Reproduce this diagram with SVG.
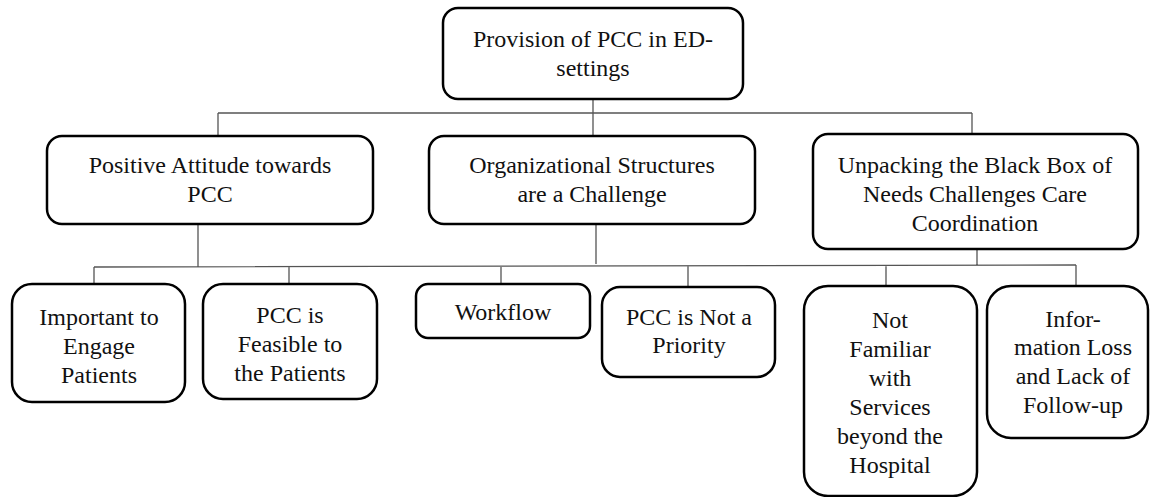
<svg xmlns="http://www.w3.org/2000/svg" width="1151" height="497" viewBox="0 0 1151 497">
<style>
.box{fill:#fff;stroke:#000;stroke-width:2.5}
.t{font-family:"Liberation Serif","Times New Roman",serif;font-size:24px;fill:#111;text-anchor:middle}
.c{fill:none;stroke:#555;stroke-width:1.3}
</style>
<rect width="1151" height="497" fill="#fff"/>
<g id="connectors">
<path class="c" d="M593,99V136M218,113H972M218,113V136M972,113V134"/>
<path class="c" d="M198,224V267M596,224V264M977,249V266M94,267L1076,265M94,267V284M289,267V284M501,267V284M688,266V287M886,266V286M1076,265V286"/>
</g>
<g id="n0"><rect class="box" x="443" y="8" width="300" height="91" rx="15"/>
<text class="t" x="593" y="47">Provision of PCC in ED-</text><text class="t" x="593" y="76">settings</text></g>
<g id="n1"><rect class="box" x="47" y="136" width="326" height="88" rx="15"/>
<text class="t" x="210" y="173">Positive Attitude towards</text><text class="t" x="210" y="202">PCC</text></g>
<g id="n2"><rect class="box" x="429" y="136" width="326" height="88" rx="15"/>
<text class="t" x="592" y="173">Organizational Structures</text><text class="t" x="592" y="202">are a Challenge</text></g>
<g id="n3"><rect class="box" x="813" y="134" width="325" height="115" rx="15"/>
<text class="t" x="975" y="173">Unpacking the Black Box of</text><text class="t" x="975" y="202">Needs Challenges Care</text><text class="t" x="975" y="231">Coordination</text></g>
<g id="n4"><rect class="box" x="12" y="284" width="173" height="118" rx="20"/>
<text class="t" x="99" y="325">Important to</text><text class="t" x="99" y="354">Engage</text><text class="t" x="99" y="383">Patients</text></g>
<g id="n5"><rect class="box" x="203" y="284" width="174" height="115" rx="20"/>
<text class="t" x="290" y="323">PCC is</text><text class="t" x="290" y="352">Feasible to</text><text class="t" x="290" y="381">the Patients</text></g>
<g id="n6"><rect class="box" x="416" y="284" width="174" height="54" rx="12"/>
<text class="t" x="503" y="320">Workflow</text></g>
<g id="n7"><rect class="box" x="602" y="287" width="173" height="90" rx="18"/>
<text class="t" x="689" y="325">PCC is Not a</text><text class="t" x="689" y="353">Priority</text></g>
<g id="n8"><rect class="box" x="804" y="286" width="173" height="210" rx="24"/>
<text class="t" x="890" y="328">Not</text><text class="t" x="890" y="357">Familiar</text><text class="t" x="890" y="386">with</text><text class="t" x="890" y="415">Services</text><text class="t" x="890" y="444">beyond the</text><text class="t" x="890" y="473">Hospital</text></g>
<g id="n9"><rect class="box" x="987" y="286" width="161" height="152" rx="24"/>
<text class="t" x="1073" y="327">Infor-</text><text class="t" x="1073" y="355">mation Loss</text><text class="t" x="1073" y="384">and Lack of</text><text class="t" x="1073" y="413">Follow-up</text></g>
</svg>
